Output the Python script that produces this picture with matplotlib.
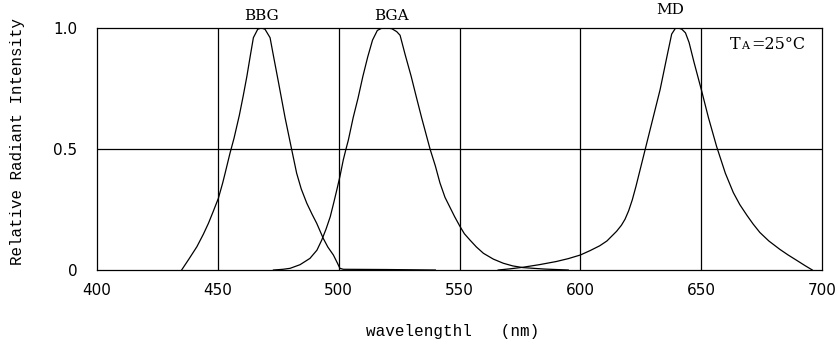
import matplotlib
matplotlib.use("Agg")
import matplotlib.pyplot as plt

# ── spectral curves ───────────────────────────────────────────────────────
bbg_nm = [435, 438, 441.3, 444, 446.1, 448, 450.2, 452, 453, 455, 456.7, 458.9,
          460.5, 462, 463.5, 464.7, 466.5, 468, 469.5, 471.6, 473, 475, 477.8,
          480.5, 482.6, 484.5, 486.8, 489, 490.9, 493.6, 495.5, 497.8, 499.5,
          500.5, 501.9, 520, 540]
bbg_val = [0.0, 0.045, 0.096, 0.148, 0.193, 0.24, 0.296, 0.36, 0.40, 0.482, 0.545, 0.64,
           0.72, 0.80, 0.89, 0.96, 0.995, 1.0, 0.995, 0.96, 0.885, 0.78, 0.63,
           0.50, 0.40, 0.335, 0.276, 0.23, 0.193, 0.131, 0.095, 0.062, 0.028,
           0.007, 0.003, 0.002, 0.0]

bga_nm = [473, 477, 479.9, 484, 488.1, 491, 493, 494.8, 496.5, 498, 499.2, 500.5,
          501.9, 503, 504, 506, 508, 510, 512, 514, 516, 518, 520, 522,
          524, 525.4, 527.5, 530, 532, 534.3, 537.8, 540, 541.9, 544, 546, 548,
          550.2, 552, 554.3, 557, 559.9, 564, 568.1, 572, 576.2, 585, 595]
bga_val = [0.0, 0.003, 0.007, 0.022, 0.048, 0.082, 0.124, 0.17, 0.22, 0.28, 0.33, 0.386,
           0.455, 0.499, 0.537, 0.63, 0.71, 0.80, 0.88, 0.95, 0.99, 1.0, 1.0, 0.997,
           0.985, 0.97, 0.89, 0.80, 0.72, 0.63, 0.50, 0.43, 0.36, 0.30, 0.26, 0.22,
           0.18, 0.15, 0.124, 0.095, 0.069, 0.045, 0.028, 0.017, 0.01, 0.004, 0.0]

md_nm = [566, 571, 576, 583, 590, 595, 600, 604, 608, 611, 613, 615, 617, 618.5,
         620, 621.5, 623, 624.5, 626, 628, 630, 633, 636, 637.8, 639.3, 640.5, 642,
         643.5, 645, 647, 650.2, 653, 656.4, 660, 663.3, 666, 669, 671.5, 674.3,
         678, 682.6, 686, 690, 693, 696]
md_val = [0.0, 0.005, 0.011, 0.022, 0.035, 0.047, 0.062, 0.08, 0.10, 0.12, 0.14, 0.16,
          0.185, 0.21, 0.245, 0.29, 0.345, 0.405, 0.465, 0.545, 0.625, 0.745, 0.89,
          0.975, 0.998, 1.0, 0.995, 0.98, 0.94, 0.86, 0.74, 0.63, 0.51, 0.40, 0.32,
          0.27, 0.225, 0.19, 0.155, 0.12, 0.085, 0.062, 0.037, 0.018, 0.0]

curve_names = ["BBG", "BGA", "MD"]
x_ticks = [400, 450, 500, 550, 600, 650, 700]
y_ticks = [0, 0.5, 1.0]
y_tick_labels = ["0", "0.5", "1.0"]

SERIF = "DejaVu Serif"
MONO = "Liberation Mono"

fig = plt.figure(figsize=(8.38, 3.53), dpi=100)
ax = fig.add_axes([0.1158, 0.2351, 0.8651, 0.6856])

curves = [(bbg_nm, bbg_val), (bga_nm, bga_val), (md_nm, md_val)]
for nm, val in curves:
    ax.plot(nm, val, color="black", linewidth=0.9)

# grid inside the frame
for x in x_ticks[1:-1]:
    ax.axvline(x, color="black", linewidth=0.9)
ax.axhline(0.5, color="black", linewidth=0.9)

ax.set_xlim(400, 700)
ax.set_ylim(0, 1.0)
ax.set_xticks(x_ticks)
ax.set_yticks(y_ticks)
ax.set_yticklabels(y_tick_labels)
ax.tick_params(axis="both", length=0, labelsize=11)
ax.tick_params(axis="x", pad=9)
ax.tick_params(axis="y", pad=14)
for s in ax.spines.values():
    s.set_linewidth(0.9)

ax.set_ylabel("Relative Radiant Intensity", family=MONO, fontsize=11.4)
ax.yaxis.set_label_coords(-0.100, 0.533)
ax.set_xlabel("wavelengthl   (nm)", family=MONO, fontsize=11.5)
ax.xaxis.set_label_coords(0.491, -0.225)

# curve names above the frame (small sideways nudge in points)
name_nudge = [(0, 6), (7, 6), (-6, 10)]
for name, (nm, val), (dx, dy) in zip(curve_names, curves, name_nudge):
    peak = nm[val.index(max(val))]
    ax.annotate(name, (peak, 1.0), xytext=(dx, dy), textcoords="offset points",
                ha="center", va="baseline", family=SERIF, fontsize=11)

t1 = ax.text(0.873, 0.93, "T", transform=ax.transAxes, family=SERIF, fontsize=11.5,
             ha="left", va="center")
ax.annotate("A", xy=(1, 0), xycoords=t1, xytext=(0.5, 1.5), textcoords="offset points",
            family=SERIF, fontsize=8, ha="left", va="bottom")
ax.annotate("=25°C", xy=(1, 0), xycoords=t1, xytext=(8, 0), textcoords="offset points",
            family=SERIF, fontsize=11.5, ha="left", va="bottom")

fig.savefig("out.png", dpi=100)
